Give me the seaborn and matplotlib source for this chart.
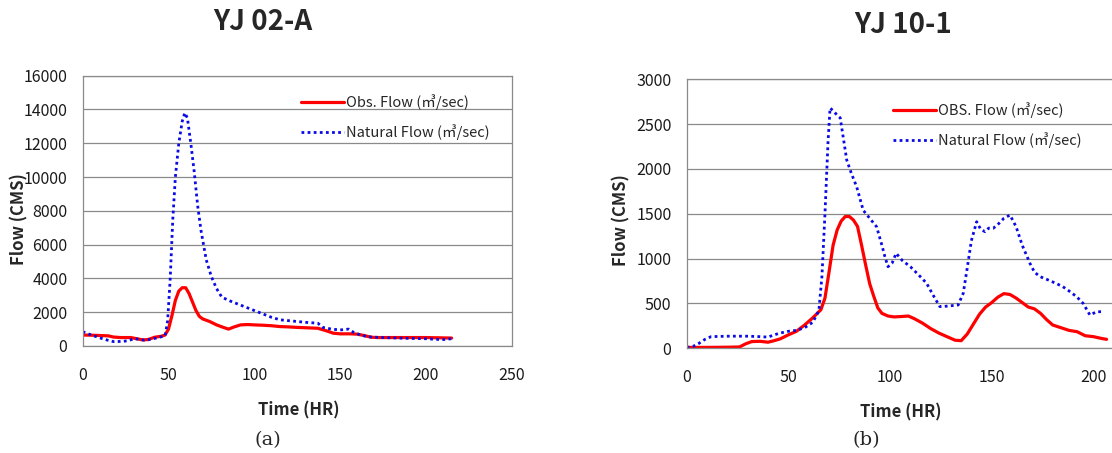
import matplotlib.pyplot as plt
import seaborn as sns

# YJ 02-A (a)
a_obs_t = [0, 5, 10, 15, 18, 22, 28, 32, 35, 38, 42, 46, 48, 50, 52, 54, 56, 58, 60, 62, 64, 66, 68, 70,
           74, 78, 82, 85, 88, 92, 96, 100, 105, 110, 115, 120, 125, 130, 137, 142, 146, 150, 156, 160,
           164, 168, 172, 180, 190, 200, 210, 215]
a_obs_q = [650, 640, 620, 600, 530, 500, 500, 420, 360, 380, 520, 580, 650, 1000, 1800, 2700, 3250, 3450,
           3450, 3100, 2600, 2100, 1750, 1600, 1450, 1250, 1100, 1000, 1120, 1250, 1270, 1250, 1230, 1200,
           1150, 1130, 1100, 1080, 1050, 900, 760, 720, 720, 700, 620, 520, 500, 500, 500, 500, 480, 470]
a_nat_t = [0, 5, 10, 15, 18, 22, 26, 30, 33, 36, 40, 44, 48, 49.5, 51, 52.5, 54, 56, 58, 59.5, 61, 63, 65,
           67, 69, 72, 75, 78, 81, 85, 90, 95, 100, 105, 110, 115, 120, 125, 130, 137, 140, 145, 150, 155,
           158, 162, 166, 170, 180, 190, 200, 205, 210, 215]
a_nat_q = [850, 650, 480, 330, 260, 270, 300, 430, 400, 340, 400, 500, 600, 1500, 4000, 7500, 10000, 12000,
           13300, 13800, 13500, 12000, 10300, 8300, 6800, 5100, 4100, 3400, 2900, 2700, 2500, 2300, 2100,
           1900, 1700, 1550, 1500, 1450, 1400, 1350, 1100, 1000, 950, 1000, 800, 650, 550, 520, 480, 450,
           430, 400, 380, 430]

# YJ 10-1 (b)
b_obs_t = [0, 10, 20, 26, 29, 32, 36, 40, 43, 46, 50, 54, 58, 62, 66, 68, 70, 72, 74, 76, 78, 80, 82, 84,
           86, 88, 90, 92, 94, 96, 99, 102, 106, 109, 112, 116, 120, 124, 128, 132, 135, 138, 141, 144, 147,
           150, 153, 156, 159, 162, 165, 168, 171, 174, 177, 180, 184, 188, 192, 196, 200, 204, 206.5]
b_obs_q = [10, 10, 12, 15, 50, 75, 78, 68, 85, 105, 150, 190, 260, 340, 430, 560, 850, 1150, 1320, 1420,
           1470, 1470, 1430, 1360, 1150, 930, 720, 580, 450, 390, 360, 350, 355, 360, 330, 280, 220, 170,
           130, 90, 85, 160, 270, 380, 460, 510, 570, 610, 600, 560, 510, 460, 440, 390, 320, 260, 230, 200,
           185, 140, 130, 110, 100]
b_nat_t = [0, 3, 6, 9, 12, 20, 30, 36, 40, 43, 46, 50, 54, 58, 62, 65, 66.5, 68, 69.5, 70.5, 72, 74, 75.5,
           77, 78.7, 81, 83.6, 86.8, 90, 93.4, 96, 97.5, 99, 101, 103, 106, 110, 114, 118, 121, 124.5, 128,
           133.5, 136, 138, 140, 142.6, 144.5, 146.7, 148.5, 150.7, 153, 156, 159, 162, 165, 168.8, 171,
           173.7, 178, 182, 185, 188, 191.8, 195, 198.3, 201.6, 204.8]
b_nat_q = [10, 20, 55, 100, 130, 135, 135, 130, 125, 150, 170, 190, 200, 230, 290, 420, 800, 1500, 2300,
           2680, 2650, 2600, 2570, 2350, 2100, 1950, 1800, 1540, 1450, 1355, 1150, 1020, 910, 950, 1060,
           980, 910, 820, 725, 600, 465, 470, 483, 613, 900, 1200, 1412, 1330, 1300, 1340, 1338, 1380, 1450,
           1486, 1356, 1150, 948, 850, 800, 760, 720, 687, 640, 575, 500, 371, 408, 408]

sns.set_style('white')
plt.rcParams['font.family'] = ['Noto Sans CJK KR', 'DejaVu Sans']

W, H = 1112, 453
fig = plt.figure(figsize=(W / 100, H / 100), dpi=100)
ax1 = fig.add_axes([82.7 / W, 1 - 346 / H, 429 / W, 270.3 / H])
ax2 = fig.add_axes([686.7 / W, 1 - 348.3 / H, 427 / W, 269 / H])

grey = '#8a8a8a'
red = '#ff0000'
blue = '#0a0ae6'
dots = (0, (1, 1.2))

sns.lineplot(x=a_obs_t, y=a_obs_q, ax=ax1, color=red, linewidth=2.3, label='Obs. Flow (㎥/sec)')
sns.lineplot(x=a_nat_t, y=a_nat_q, ax=ax1, color=blue, linewidth=2.0, linestyle=dots,
             label='Natural Flow (㎥/sec)')
sns.lineplot(x=b_obs_t, y=b_obs_q, ax=ax2, color=red, linewidth=2.3, label='OBS. Flow (㎥/sec)')
sns.lineplot(x=b_nat_t, y=b_nat_q, ax=ax2, color=blue, linewidth=2.0, linestyle=dots,
             label='Natural Flow (㎥/sec)')

ax1.set_xlim(0, 250)
ax1.set_ylim(0, 16000)
ax1.set_xticks(range(0, 251, 50))
ax1.set_yticks(range(0, 16001, 2000))
ax2.set_xlim(0, 210)
ax2.set_ylim(0, 3000)
ax2.set_xticks(range(0, 201, 50))
ax2.set_yticks(range(0, 3001, 500))
ax2.spines['right'].set_visible(False)

for ax in (ax1, ax2):
    ax.set_xlabel('')
    ax.set_ylabel('')
    ax.grid(axis='y', color=grey, linewidth=0.9)
    ax.grid(axis='x', visible=False)
    for s in ax.spines.values():
        s.set_color(grey)
        s.set_linewidth(0.9)
    ax.tick_params(axis='both', direction='out', length=4, width=0.9, color=grey,
                   labelsize=11.5, labelcolor='#1a1a1a')
    ax.tick_params(axis='x', pad=11)
    ax.tick_params(axis='y', pad=7)

leg_kw = dict(loc='upper left', bbox_transform=fig.transFigure, frameon=False, borderpad=0,
              handlelength=2.9, handletextpad=0.2, labelspacing=0.95, fontsize=10.5)
ax1.legend(bbox_to_anchor=(294 / W, 1 - 87 / H), **leg_kw)
ax2.legend(bbox_to_anchor=(886 / W, 1 - 95 / H), **leg_kw)

fig.text(262.5 / W, 1 - 22.5 / H, 'YJ 02-A', ha='center', va='center', fontsize=20, fontweight='bold')
fig.text(903.3 / W, 1 - 25 / H, 'YJ 10-1', ha='center', va='center', fontsize=20, fontweight='bold')
fig.text(19.5 / W, 1 - 219 / H, 'Flow (CMS)', rotation=90, ha='center', va='center',
         fontsize=12, fontweight='bold')
fig.text(621.7 / W, 1 - 220 / H, 'Flow (CMS)', rotation=90, ha='center', va='center',
         fontsize=12, fontweight='bold')
fig.text(299 / W, 1 - 410 / H, 'Time (HR)', ha='center', va='center', fontsize=12, fontweight='bold')
fig.text(900.7 / W, 1 - 412.7 / H, 'Time (HR)', ha='center', va='center', fontsize=12, fontweight='bold')
fig.text(268 / W, 1 - 440 / H, '(a)', ha='center', va='center', fontsize=14, family='DejaVu Serif')
fig.text(866 / W, 1 - 440 / H, '(b)', ha='center', va='center', fontsize=14, family='DejaVu Serif')

fig.savefig('out.png', dpi=100)
